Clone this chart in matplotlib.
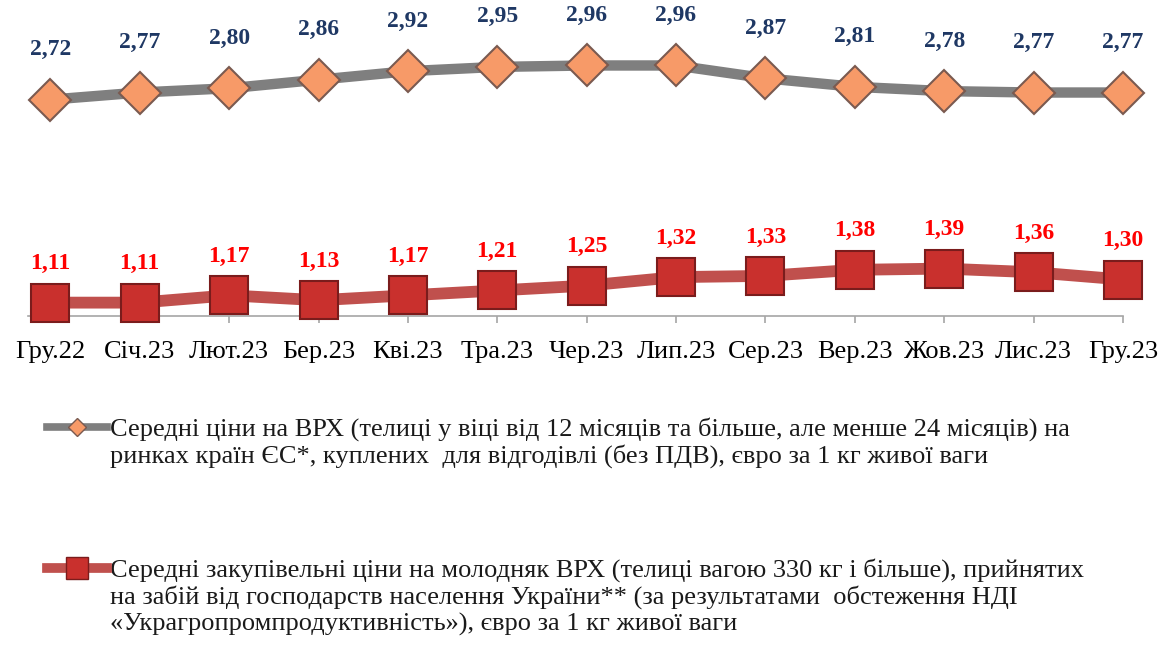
import matplotlib
matplotlib.use("Agg")
import matplotlib.pyplot as plt
from matplotlib.lines import Line2D

months = ["Гру.22", "Січ.23", "Лют.23", "Бер.23", "Кві.23", "Тра.23", "Чер.23",
          "Лип.23", "Сер.23", "Вер.23", "Жов.23", "Лис.23", "Гру.23"]
eu_prices = [2.72, 2.77, 2.80, 2.86, 2.92, 2.95, 2.96, 2.96, 2.87, 2.81, 2.78, 2.77, 2.77]
ua_prices = [1.11, 1.11, 1.17, 1.13, 1.17, 1.21, 1.25, 1.32, 1.33, 1.38, 1.39, 1.36, 1.30]

eu_label_lines = [
    "Середні ціни на ВРХ (телиці у віці від 12 місяців та більше, але менше 24 місяців) на",
    "ринках країн ЄС*, куплених  для відгодівлі (без ПДВ), євро за 1 кг живої ваги",
]
ua_label_lines = [
    "Середні закупівельні ціни на молодняк ВРХ (телиці вагою 330 кг і більше), прийнятих",
    "на забій від господарств населення України** (за результатами  обстеження НДІ",
    "«Украгропромпродуктивність»), євро за 1 кг живої ваги",
]

plt.rcParams['font.family'] = ['Liberation Serif', 'DejaVu Serif']

W, H = 1164, 646
fig = plt.figure(figsize=(W / 100, H / 100), dpi=100)
x0_px, x1_px = 28, 1123
axis_y_px = 316
ax = fig.add_axes([x0_px / W, (H - axis_y_px) / H, (x1_px - x0_px) / W, axis_y_px / H])
ax2 = ax.twinx()

x = list(range(len(months)))
gray = "#7f7f7f"
red_line = "#c0504d"
diamond_face, diamond_edge = "#f79a68", "#7a5a50"
square_face, square_edge = "#c9302d", "#7a1c1c"

ax2.plot(x, eu_prices, color=gray, lw=7.5, marker="D", markersize=21,
         markerfacecolor=diamond_face, markeredgecolor=diamond_edge, markeredgewidth=1.5,
         clip_on=False, zorder=3, solid_capstyle="butt")
ax.plot(x, ua_prices, color=red_line, lw=8.5, marker="s", markersize=27,
        markerfacecolor=square_face, markeredgecolor=square_edge, markeredgewidth=1.5,
        clip_on=False, zorder=3, solid_capstyle="butt")

for xi, v in zip(x, eu_prices):
    ax2.annotate(f"{v:.2f}".replace(".", ","), (xi, v), xytext=(0, 36), textcoords="offset points",
                 ha="center", va="center", fontsize=17, fontweight="bold", color="#1f3864",
                 annotation_clip=False)
for xi, v in zip(x, ua_prices):
    ax.annotate(f"{v:.2f}".replace(".", ","), (xi, v), xytext=(0, 28), textcoords="offset points",
                ha="center", va="center", fontsize=17, fontweight="bold", color="#ff0000",
                annotation_clip=False)

ax.set_xlim(-0.25, 12)
ax.set_ylim(1.0, 3.6)
ax2.set_ylim(1.2, 3.42)
ax.set_xticks(x)
ax.set_xticklabels(months, fontsize=19)
ax.set_yticks([])
ax2.set_yticks([])
for a in (ax, ax2):
    for s in ["top", "right", "left"]:
        a.spines[s].set_visible(False)
ax2.spines["bottom"].set_visible(False)
ax.spines["bottom"].set_color("#a6a6a6")
ax.spines["bottom"].set_linewidth(1.2)
ax.tick_params(axis="x", direction="out", length=5, width=1.2, color="#a6a6a6", pad=13)
ax.patch.set_alpha(0)
ax2.patch.set_alpha(0)

# legend handles (text drawn separately so handles sit on the first line)
h1 = Line2D([], [], color=gray, lw=5.5, marker="D", markersize=9,
            markerfacecolor=diamond_face, markeredgecolor=diamond_edge)
h2 = Line2D([], [], color=red_line, lw=7, marker="s", markersize=16,
            markerfacecolor=square_face, markeredgecolor=square_edge)
for h, yc in ((h1, 428), (h2, 569)):
    fig.legend([h], [""], loc="center left", bbox_to_anchor=(47 / W, 1 - yc / H),
               frameon=False, fontsize=10, handlelength=4.3, handletextpad=0,
               borderpad=0, borderaxespad=0)

text_x = 110 / W
for line, yb in zip(eu_label_lines, (436, 463)):
    fig.text(text_x, 1 - yb / H, line, ha="left", va="baseline", fontsize=19, color="#1a1a1a")
for line, yb in zip(ua_label_lines, (577, 604, 631)):
    fig.text(text_x, 1 - yb / H, line, ha="left", va="baseline", fontsize=19, color="#1a1a1a")

fig.savefig("out.png", dpi=100)
